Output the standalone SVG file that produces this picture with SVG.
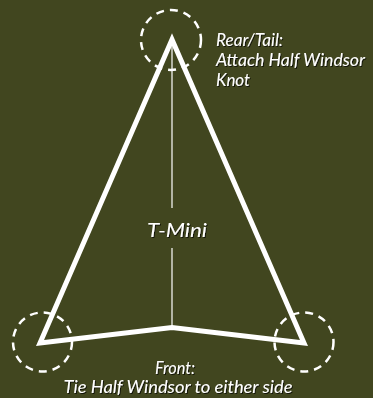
<svg xmlns="http://www.w3.org/2000/svg" width="373" height="398" viewBox="0 0 373 398">
<defs>
<filter id="sh" x="-10%" y="-30%" width="120%" height="160%">
<feDropShadow dx="1" dy="1" stdDeviation="0.6" flood-color="#000" flood-opacity="0.7"/>
</filter>
</defs>
<style>
.lbl{font-family:Lato,"Liberation Sans",sans-serif;font-style:italic;fill:#fff;filter:url(#sh)}
.ring{fill:none;stroke:#fff;stroke-width:2.5;stroke-dasharray:8 6}
.kite{fill:none;stroke:#fff;stroke-width:5;stroke-linejoin:miter;stroke-miterlimit:10}
.spine{stroke:#fff;stroke-width:1.2}
</style>
<rect width="373" height="398" fill="#41461f"/>
<g id="connectors">
<line class="spine" x1="172" y1="45" x2="172" y2="208"/>
<line class="spine" x1="172" y1="248" x2="172" y2="327"/>
</g>
<g id="kite">
<polygon class="kite" points="172,39.5 40,343 172,327.5 304,343"/>
</g>
<g id="rear">
<circle class="ring" cx="171" cy="40" r="30"/>
<text class="lbl" x="216" y="46" font-size="16.5" textLength="67" lengthAdjust="spacingAndGlyphs">Rear/Tail:</text>
<text class="lbl" x="216" y="66" font-size="16.5" textLength="149" lengthAdjust="spacingAndGlyphs">Attach Half Windsor</text>
<text class="lbl" x="216" y="86" font-size="16.5" textLength="34" lengthAdjust="spacingAndGlyphs">Knot</text>
</g>
<g id="left-tip">
<circle class="ring" cx="42.5" cy="342" r="29.5"/>
</g>
<g id="right-tip">
<circle class="ring" cx="304" cy="342" r="29.5"/>
</g>
<g id="center">
<text class="lbl" x="177" y="237" font-size="20" text-anchor="middle" textLength="60" lengthAdjust="spacingAndGlyphs">T-Mini</text>
</g>
<g id="front">
<text class="lbl" x="175" y="374" font-size="16.5" text-anchor="middle" textLength="40" lengthAdjust="spacingAndGlyphs">Front:</text>
<text class="lbl" x="178" y="393" font-size="16.5" text-anchor="middle" textLength="229" lengthAdjust="spacingAndGlyphs">Tie Half Windsor to either side</text>
</g>
</svg>
